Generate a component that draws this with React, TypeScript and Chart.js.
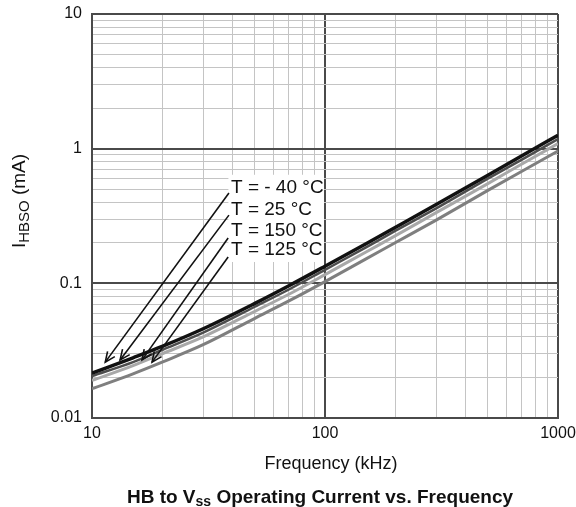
import React, { useEffect, useRef } from "react";
import { Chart, registerables } from "chart.js";

Chart.register(...registerables);

// ---- data ----
const frequencyKHz = [10, 15, 20, 30, 50, 70, 100, 150, 200, 300, 500, 700, 1000];
const currentTm40 = [0.0215, 0.028, 0.034, 0.046, 0.071, 0.096, 0.134, 0.197, 0.26, 0.385, 0.635, 0.885, 1.26];
const currentT25 = [0.0205, 0.026, 0.032, 0.043, 0.067, 0.09, 0.126, 0.185, 0.245, 0.36, 0.6, 0.83, 1.18];
const currentT150 = [0.019, 0.0245, 0.03, 0.04, 0.062, 0.083, 0.116, 0.171, 0.225, 0.335, 0.55, 0.77, 1.09];
const currentT125 = [0.0165, 0.0213, 0.026, 0.035, 0.055, 0.074, 0.103, 0.152, 0.2, 0.295, 0.49, 0.68, 0.96];

const seriesLabels = ["T = - 40 °C", "T = 25 °C", "T = 150 °C", "T = 125 °C"];

const xTickValues = [10, 20, 30, 40, 50, 60, 70, 80, 90, 100, 200, 300, 400, 500, 600, 700, 800, 900, 1000];
const yTickValues = [
  0.01, 0.02, 0.03, 0.04, 0.05, 0.06, 0.07, 0.08, 0.09,
  0.1, 0.2, 0.3, 0.4, 0.5, 0.6, 0.7, 0.8, 0.9,
  1, 2, 3, 4, 5, 6, 7, 8, 9, 10,
];

// annotation anchors (data coordinates)
const labelX = [39.5, 39.5, 39.5, 39.5];
const labelY = [0.51, 0.35, 0.244, 0.177];
const arrowTailX = [38.7, 38.7, 38.4, 38.4];
const arrowTailY = [0.468, 0.321, 0.217, 0.157];
const arrowTipX = [11.4, 13.2, 16.4, 18.1];
const arrowTipY = [0.026, 0.027, 0.027, 0.026];
const labelBoxX = [38.5, 99];
const labelBoxY = [0.144, 0.64];

const FONT = 'Arial, "Liberation Sans", Helvetica, sans-serif';

const isPow10 = (v: number) => {
  const l = Math.log10(v);
  return Math.abs(l - Math.round(l)) < 1e-6;
};

const annotationPlugin = {
  id: "annotations",
  beforeDatasetsDraw(chart: any) {
    const { ctx, scales } = chart;
    const x = scales.x, y = scales.y;
    const x0 = x.getPixelForValue(labelBoxX[0]);
    const x1 = x.getPixelForValue(labelBoxX[1]);
    const y0 = y.getPixelForValue(labelBoxY[1]);
    const y1 = y.getPixelForValue(labelBoxY[0]);
    ctx.save();
    ctx.fillStyle = "#ffffff";
    ctx.fillRect(x0, y0, x1 - x0, y1 - y0);
    ctx.restore();
  },
  afterDatasetsDraw(chart: any) {
    const { ctx, scales } = chart;
    const x = scales.x, y = scales.y;
    ctx.save();
    ctx.strokeStyle = "#111";
    ctx.lineWidth = 1.6;
    for (let i = 0; i < seriesLabels.length; i++) {
      const tx = x.getPixelForValue(arrowTailX[i]);
      const ty = y.getPixelForValue(arrowTailY[i]);
      const hx = x.getPixelForValue(arrowTipX[i]);
      const hy = y.getPixelForValue(arrowTipY[i]);
      ctx.beginPath();
      ctx.moveTo(tx, ty);
      ctx.lineTo(hx, hy);
      ctx.stroke();
      const ang = Math.atan2(hy - ty, hx - tx);
      const len = 11;
      const spread = 0.42;
      ctx.beginPath();
      ctx.moveTo(hx - len * Math.cos(ang - spread), hy - len * Math.sin(ang - spread));
      ctx.lineTo(hx, hy);
      ctx.lineTo(hx - len * Math.cos(ang + spread), hy - len * Math.sin(ang + spread));
      ctx.stroke();
    }
    ctx.fillStyle = "#111";
    ctx.font = `19px ${FONT}`;
    ctx.textAlign = "left";
    ctx.textBaseline = "middle";
    for (let i = 0; i < seriesLabels.length; i++) {
      ctx.fillText(seriesLabels[i], x.getPixelForValue(labelX[i]), y.getPixelForValue(labelY[i]));
    }
    ctx.restore();
  },
  afterDraw(chart: any) {
    const { ctx } = chart;
    ctx.save();
    ctx.fillStyle = "#111";

    // X axis title
    ctx.font = `18px ${FONT}`;
    ctx.textAlign = "center";
    ctx.textBaseline = "middle";
    ctx.fillText("Frequency (kHz)", 331, 464);

    // Y axis title with subscript, rotated
    ctx.save();
    ctx.translate(25, 201);
    ctx.rotate(-Math.PI / 2);
    ctx.textAlign = "left";
    ctx.textBaseline = "alphabetic";
    const mainF = `19px ${FONT}`;
    const subF = `15px ${FONT}`;
    ctx.font = mainF;
    const wI = ctx.measureText("I").width;
    const wRest = ctx.measureText(" (mA)").width;
    ctx.font = subF;
    const wSub = ctx.measureText("HBSO").width;
    const total = wI + wSub + wRest;
    let px = -total / 2;
    ctx.font = mainF;
    ctx.fillText("I", px, 0);
    px += wI;
    ctx.font = subF;
    ctx.fillText("HBSO", px, 4);
    px += wSub;
    ctx.font = mainF;
    ctx.fillText(" (mA)", px, 0);
    ctx.restore();

    // Chart title with subscript
    const tMain = `bold 19px ${FONT}`;
    const tSub = `bold 14px ${FONT}`;
    const p1 = "HB to V";
    const p2 = "ss";
    const p3 = " Operating Current vs. Frequency";
    ctx.textAlign = "left";
    ctx.textBaseline = "alphabetic";
    ctx.font = tMain;
    const w1 = ctx.measureText(p1).width;
    const w3 = ctx.measureText(p3).width;
    ctx.font = tSub;
    const w2 = ctx.measureText(p2).width;
    let tx = 320 - (w1 + w2 + w3) / 2;
    const base = 503;
    ctx.font = tMain;
    ctx.fillText(p1, tx, base);
    tx += w1;
    ctx.font = tSub;
    ctx.fillText(p2, tx, base + 3);
    tx += w2;
    ctx.font = tMain;
    ctx.fillText(p3, tx, base);
    ctx.restore();
  },
};

const gridColor = (c: any) => (c.tick && isPow10(c.tick.value) ? "#4a4a4a" : "#c4c4c4");
const gridWidth = (c: any) => (c.tick && isPow10(c.tick.value) ? 2 : 1);

export default function App() {
  const canvasRef = useRef<HTMLCanvasElement | null>(null);

  useEffect(() => {
    if (!canvasRef.current) return;
    const mk = (vals: number[]) => frequencyKHz.map((f, i) => ({ x: f, y: vals[i] }));
    const chart = new Chart(canvasRef.current, {
      type: "line",
      data: {
        datasets: [
          { label: seriesLabels[0], data: mk(currentTm40), borderColor: "#111111", borderWidth: 3.5 },
          { label: seriesLabels[1], data: mk(currentT25), borderColor: "#4d4d4d", borderWidth: 2.5 },
          { label: seriesLabels[2], data: mk(currentT150), borderColor: "#a8a8a8", borderWidth: 3 },
          { label: seriesLabels[3], data: mk(currentT125), borderColor: "#7f7f7f", borderWidth: 3 },
        ].map((d) => ({ ...d, pointRadius: 0, fill: false, cubicInterpolationMode: "monotone" as const })),
      },
      options: {
        responsive: false,
        animation: false,
        devicePixelRatio: 1,
        layout: { padding: { left: 0, right: 18, top: 14, bottom: 0 } },
        plugins: {
          legend: { display: false },
          title: { display: false },
          tooltip: { enabled: false },
        },
        scales: {
          x: {
            type: "logarithmic",
            min: 10,
            max: 1000,
            afterBuildTicks: (scale: any) => {
              scale.ticks = xTickValues.map((v) => ({ value: v }));
            },
            afterFit: (scale: any) => {
              scale.height = 89;
              scale.paddingLeft = 0;
              scale.paddingRight = 0;
              scale.paddingTop = 0;
              scale.paddingBottom = 0;
            },
            ticks: {
              autoSkip: false,
              maxRotation: 0,
              minRotation: 0,
              padding: 6,
              color: "#111",
              font: { family: FONT, size: 16 },
              callback: (v: any) => (isPow10(Number(v)) ? String(Number(v)) : ""),
            },
            grid: { color: gridColor, lineWidth: gridWidth, drawTicks: false },
            border: { display: true, color: "#4a4a4a", width: 2 },
          },
          y: {
            type: "logarithmic",
            min: 0.01,
            max: 10,
            afterBuildTicks: (scale: any) => {
              scale.ticks = yTickValues.map((v) => ({ value: v }));
            },
            afterFit: (scale: any) => {
              scale.width = 92;
              scale.paddingLeft = 0;
              scale.paddingRight = 0;
              scale.paddingTop = 0;
              scale.paddingBottom = 0;
            },
            ticks: {
              autoSkip: false,
              padding: 10,
              color: "#111",
              font: { family: FONT, size: 16 },
              callback: (v: any) => (isPow10(Number(v)) ? String(Number(v)) : ""),
            },
            grid: { color: gridColor, lineWidth: gridWidth, drawTicks: false },
            border: { display: true, color: "#4a4a4a", width: 2 },
          },
        },
      },
      plugins: [annotationPlugin],
    });
    return () => chart.destroy();
  }, []);

  return (
    <div style={{ position: "fixed", left: 0, top: 0, width: 576, height: 507, background: "#fff" }}>
      <canvas ref={canvasRef} width={576} height={507} style={{ display: "block" }} />
    </div>
  );
}
